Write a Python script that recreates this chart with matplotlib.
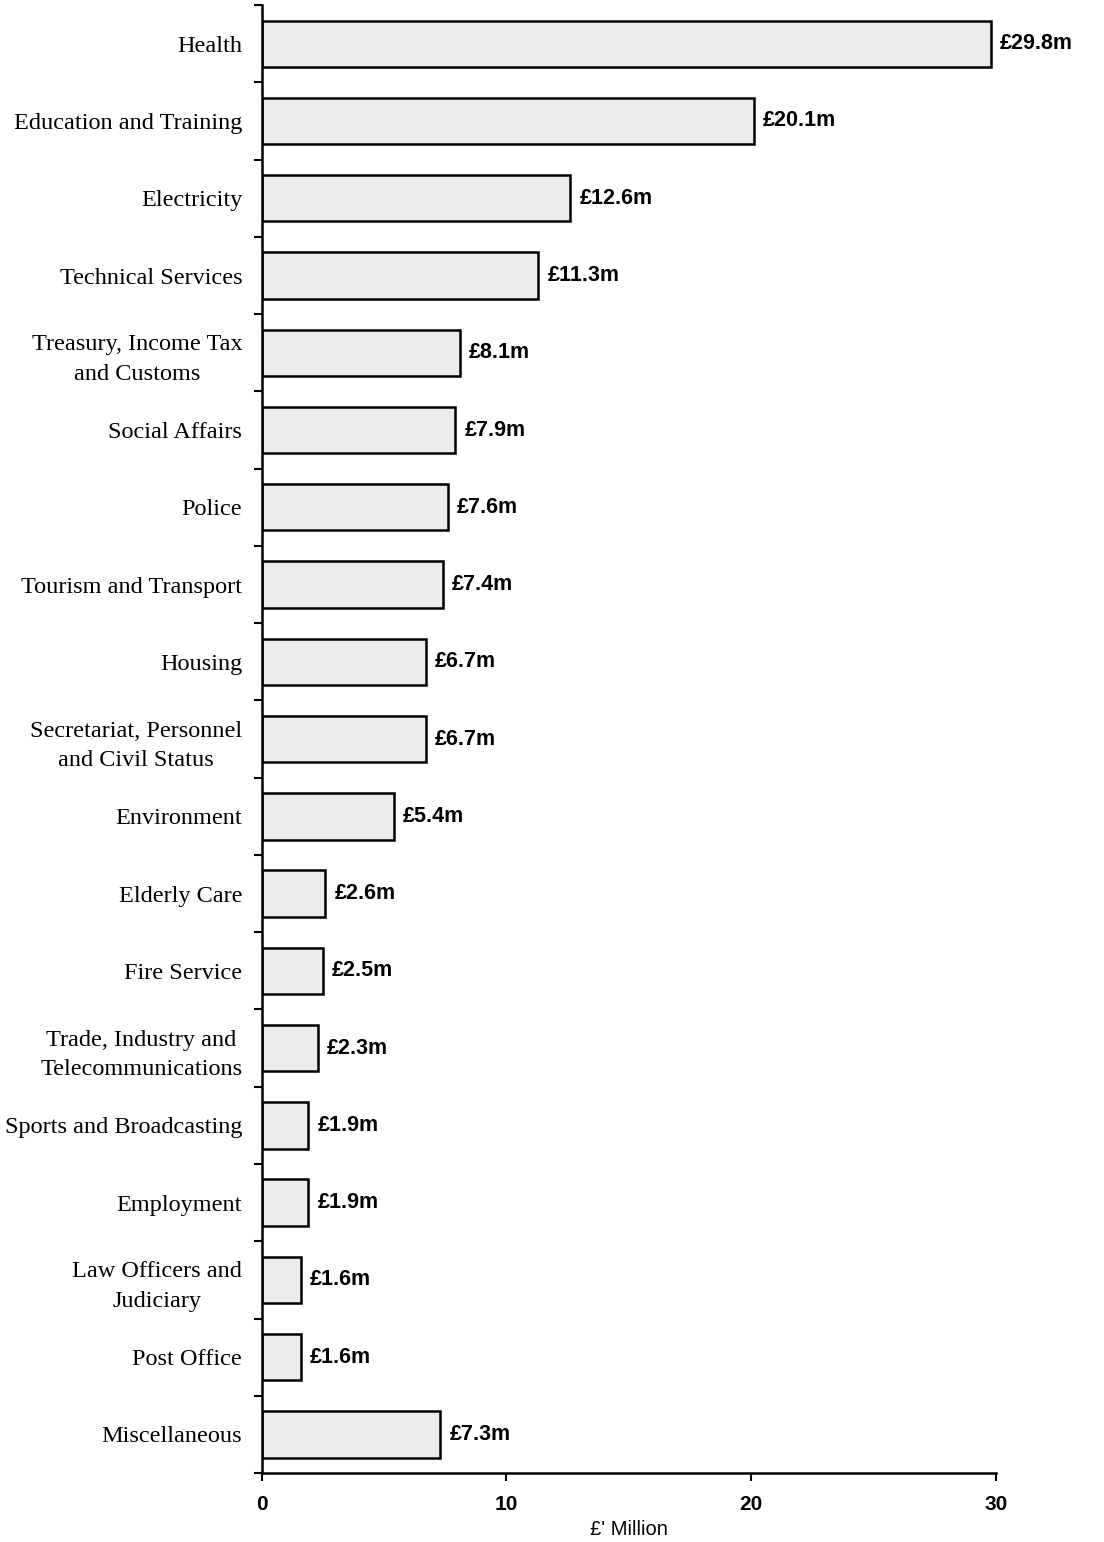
import matplotlib
matplotlib.use("Agg")
import matplotlib.pyplot as plt
import numpy as np

categories = [
    "Health",
    "Education and Training",
    "Electricity",
    "Technical Services",
    "Treasury, Income Tax\nand Customs",
    "Social Affairs",
    "Police",
    "Tourism and Transport",
    "Housing",
    "Secretariat, Personnel\nand Civil Status",
    "Environment",
    "Elderly Care",
    "Fire Service",
    "Trade, Industry and\nTelecommunications",
    "Sports and Broadcasting",
    "Employment",
    "Law Officers and\nJudiciary",
    "Post Office",
    "Miscellaneous",
]
values = [29.8, 20.1, 12.6, 11.3, 8.1, 7.9, 7.6, 7.4, 6.7, 6.7,
          5.4, 2.6, 2.5, 2.3, 1.9, 1.9, 1.6, 1.6, 7.3]
value_labels = ["£%.1fm" % v for v in values]
x_ticks = [0, 10, 20, 30]

fig = plt.figure(figsize=(11.04, 15.42), dpi=100)
ax = fig.add_axes([0.237, 0.0447, 0.665, 0.952])

n = len(categories)
y = np.arange(n)
ax.barh(y, values, height=0.6, color="#ececec", edgecolor="black", linewidth=1.8, zorder=2)

for yi, v, lab in zip(y, values, value_labels):
    ax.text(v + 0.38, yi, lab, va="center", ha="left", fontsize=15.5,
            fontweight="bold", family="Liberation Sans")

ax.set_ylim(n - 0.5, -0.5)
ax.set_xlim(0, 30)
ax.set_yticks(y)
ax.set_yticklabels(categories, family="Liberation Serif", fontsize=17.5,
                   multialignment="center", linespacing=1.55)
ax.tick_params(axis="y", which="major", length=0, pad=14)
ax.set_yticks(np.arange(-0.5, n, 1.0), minor=True)
ax.tick_params(axis="y", which="minor", length=6, width=1.5, direction="out")

ax.set_xticks(x_ticks)
ax.set_xticklabels([str(t) for t in x_ticks], fontweight="bold",
                   family="Liberation Sans", fontsize=15)
ax.tick_params(axis="x", length=6, width=1.5, direction="out", pad=10)

ax.set_xlabel("£' Million", family="Liberation Sans", fontsize=14.5, labelpad=4)

for s in ["top", "right"]:
    ax.spines[s].set_visible(False)
for s in ["left", "bottom"]:
    ax.spines[s].set_linewidth(1.8)

fig.savefig("out.png", dpi=100)
